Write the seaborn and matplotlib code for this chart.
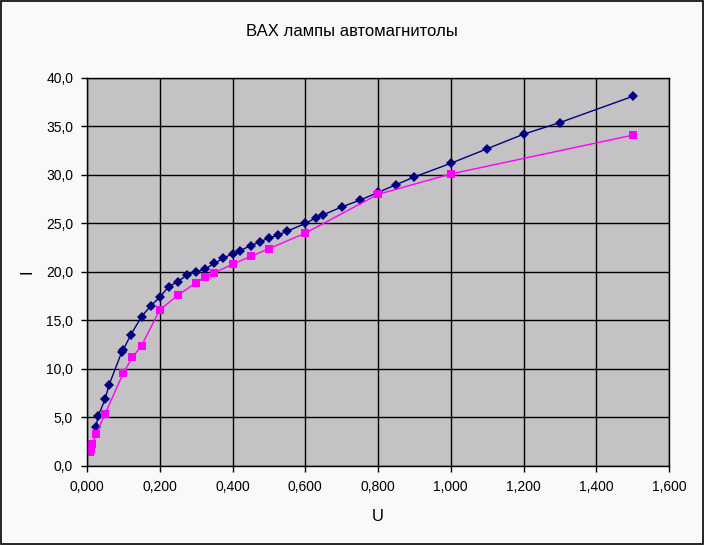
import matplotlib
matplotlib.use("Agg")
import matplotlib.pyplot as plt
import seaborn as sns
import pandas as pd

title = "ВАХ лампы автомагнитолы"

U1 = [0.025, 0.03, 0.05, 0.06, 0.095, 0.1, 0.12, 0.15, 0.175, 0.2, 0.225, 0.25,
      0.275, 0.3, 0.325, 0.35, 0.375, 0.4, 0.42, 0.45, 0.475, 0.5, 0.525, 0.55,
      0.6, 0.63, 0.65, 0.7, 0.75, 0.8, 0.85, 0.9, 1.0, 1.1, 1.2, 1.3, 1.5]
I1 = [4.0, 5.1, 6.9, 8.3, 11.7, 12.0, 13.5, 15.4, 16.5, 17.4, 18.5, 19.0,
      19.7, 20.0, 20.3, 20.9, 21.4, 21.9, 22.2, 22.7, 23.1, 23.5, 23.8, 24.2,
      25.0, 25.6, 25.9, 26.7, 27.4, 28.2, 29.0, 29.8, 31.2, 32.7, 34.2, 35.4, 38.1]

U2 = [0.008, 0.01, 0.015, 0.025, 0.05, 0.1, 0.125, 0.15, 0.2, 0.25, 0.3, 0.325,
      0.35, 0.4, 0.45, 0.5, 0.6, 0.8, 1.0, 1.5]
I2 = [1.4, 1.8, 2.3, 3.3, 5.4, 9.6, 11.2, 12.4, 16.1, 17.6, 18.9, 19.5,
      19.9, 20.8, 21.6, 22.4, 24.0, 28.0, 30.1, 34.1]

x_ticks = [0.0, 0.2, 0.4, 0.6, 0.8, 1.0, 1.2, 1.4, 1.6]
y_ticks = [0, 5, 10, 15, 20, 25, 30, 35, 40]

plt.rcParams['font.family'] = ['Liberation Sans', 'DejaVu Sans']

fig = plt.figure(figsize=(7.04, 5.45), dpi=100, facecolor="#f8faf8")
ax = fig.add_axes([0.1236, 0.145, 0.8267, 0.712])
ax.set_facecolor("#c4c2c4")

df1 = pd.DataFrame({"U": U1, "I": I1})
df2 = pd.DataFrame({"U": U2, "I": I2})
sns.lineplot(data=df1, x="U", y="I", ax=ax, color="#000080", marker="D",
             markersize=5, markeredgewidth=0, linewidth=1, sort=False)
sns.lineplot(data=df2, x="U", y="I", ax=ax, color="#ff00ff", marker="s",
             markersize=5.5, markeredgewidth=0, linewidth=1, sort=False)

ax.set_xlim(0, 1.6)
ax.set_ylim(0, 40)
ax.set_xticks(x_ticks)
ax.set_yticks(y_ticks)
ax.set_xticklabels([f"{v:.3f}".replace(".", ",") for v in x_ticks])
ax.set_yticklabels([f"{v:.1f}".replace(".", ",") for v in y_ticks])
ax.grid(True, color="black", linewidth=1)
ax.set_axisbelow(True)
for s in ax.spines.values():
    s.set_color("black")
    s.set_linewidth(1)
ax.tick_params(direction="out", length=4, width=1, colors="black",
               labelsize=10, pad=6)

ax.set_xlabel("U", fontsize=12, labelpad=11)
ax.set_ylabel("I", fontsize=12, labelpad=8)
fig.text(0.5, 0.943, title, ha="center", va="center", fontsize=12)

fig.patches.append(plt.Rectangle((0.001, 0.001), 0.997, 0.997, transform=fig.transFigure,
                                 fill=False, edgecolor="black", linewidth=1.2))

fig.savefig("out.png", dpi=100, facecolor=fig.get_facecolor())
